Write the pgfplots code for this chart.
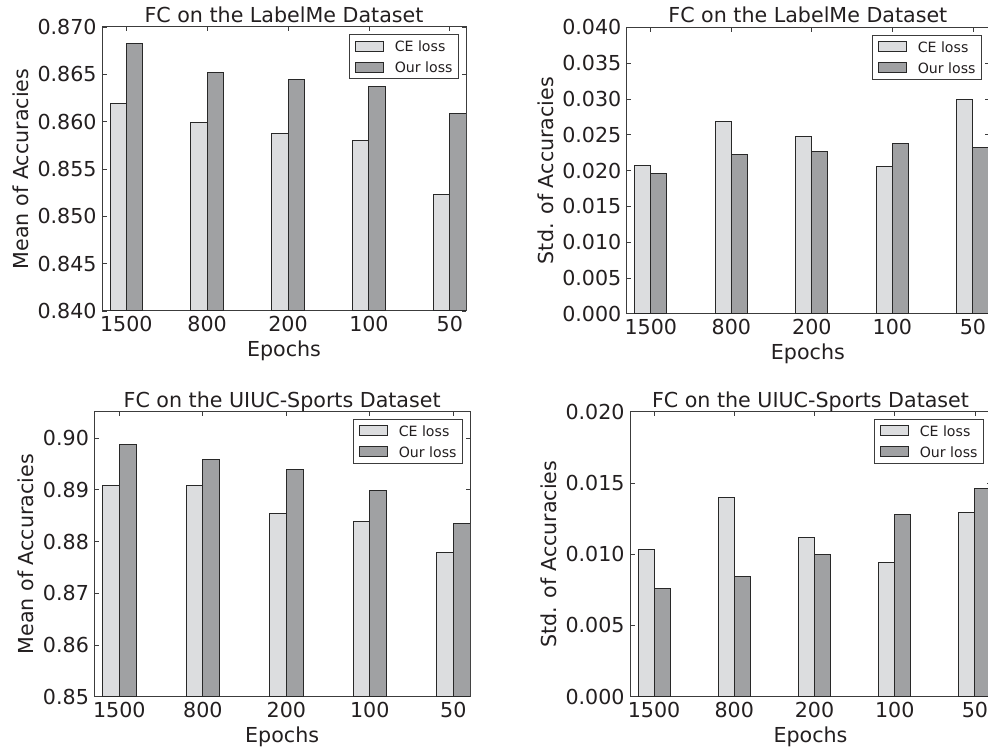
\documentclass[border=0pt]{standalone}
\usepackage{pgfplots}
\pgfplotsset{compat=1.18}
\usepackage{fontspec}
\setmainfont{DejaVu Sans}
\definecolor{cefill}{RGB}{220,221,223}
\definecolor{ourfill}{RGB}{160,161,163}
\definecolor{edge}{RGB}{40,40,40}
\definecolor{txt}{RGB}{35,31,32}
\definecolor{frame}{RGB}{60,60,60}
\newcommand\bigfont{\fontsize{20.7}{24}\selectfont}
\newcommand\legfont{\fontsize{14.2}{17}\selectfont}
\pgfplotsset{
 panel/.style={
   scale only axis,
   xmin=-0.3, xmax=4.2,
   xtick={0,1,2,3,4}, xticklabels={1500,800,200,100,50},
   ybar, bar width=0.2,
   scaled y ticks=false,
   axis line style={draw=frame, line width=1bp},
   every tick/.style={draw=frame, line width=0.8bp},
   major tick length=4.5bp,
   tick align=inside,
   tick label style={font=\bigfont, text=txt},
   label style={font=\bigfont, text=txt},
   every axis title shift=0pt,
   title style={font=\bigfont, text=txt, at={(axis description cs:0.5,1)}, anchor=base, yshift=4.4bp, inner sep=0pt},
   xticklabel style={anchor=north, inner sep=0pt, yshift=-5.5bp},
   yticklabel style={anchor=east, inner sep=0pt, xshift=-5.2bp,
     /pgf/number format/fixed, /pgf/number format/fixed zerofill,
     /pgf/number format/assume math mode=true},
   xlabel style={at={(axis description cs:0.5,0)}, anchor=north, inner sep=0pt, yshift=-29.5bp},
   xlabel={Epochs},
   legend style={at={(axis description cs:1,1)}, anchor=north east, xshift=-7.5bp, yshift=-7.3bp,
     draw=frame, line width=1bp, fill=white, font=\legfont, text=txt,
     inner xsep=5.5bp, inner ysep=6bp, row sep=10bp,
     nodes={inner sep=0pt, text depth=0pt}, cells={anchor=west},
     /tikz/every odd column/.append style={column sep=11bp}},
   legend image code/.code={\draw[##1, line width=1bp] (0bp,-5bp) rectangle (28bp,5bp);},
 },
 ylab/.style={ylabel style={at={(axis description cs:#1,0.5)}, anchor=center}},
 cebar/.style={fill=cefill, draw=edge, line width=1bp, bar shift=-0.1},
 ourbar/.style={fill=ourfill, draw=edge, line width=1bp, bar shift=0.1},
}
\begin{document}
\begin{tikzpicture}
% Top left
\begin{axis}[panel, at={(102bp,438bp)}, anchor=south west, width=364bp, height=284bp,
  ymin=0.840, ymax=0.870, ytick={0.840,0.845,0.850,0.855,0.860,0.865,0.870},
  yticklabel style={/pgf/number format/precision=3},
  title={FC on the LabelMe Dataset}, ylabel={Mean of Accuracies}, ylab=-0.2225]
\addplot[cebar] coordinates {(0,0.8619) (1,0.8599) (2,0.8588) (3,0.8580) (4,0.8523)};
\addplot[ourbar] coordinates {(0,0.8683) (1,0.8652) (2,0.8645) (3,0.8637) (4,0.8609)};
\legend{CE loss, Our loss}
\end{axis}
% Top right
\begin{axis}[panel, at={(626.7bp,435.3bp)}, anchor=south west, width=362.3bp, height=286.3bp,
  ymin=0, ymax=0.040, ytick={0,0.005,0.010,0.015,0.020,0.025,0.030,0.035,0.040},
  yticklabel style={/pgf/number format/precision=3},
  title={FC on the LabelMe Dataset}, ylabel={Std. of Accuracies}, ylab=-0.2227]
\addplot[cebar] coordinates {(0,0.0207) (1,0.0269) (2,0.0248) (3,0.0206) (4,0.0299)};
\addplot[ourbar] coordinates {(0,0.0196) (1,0.0223) (2,0.0226) (3,0.0238) (4,0.0232)};
\legend{CE loss, Our loss}
\end{axis}
% Bottom left
\begin{axis}[panel, at={(94.3bp,52.3bp)}, anchor=south west, width=375.7bp, height=285bp,
  ymin=0.85, ymax=0.9051, ytick={0.85,0.86,0.87,0.88,0.89,0.90},
  yticklabel style={/pgf/number format/precision=2},
  title={FC on the UIUC-Sports Dataset}, ylabel={Mean of Accuracies}, ylab=-0.181]
\addplot[cebar] coordinates {(0,0.8909) (1,0.8908) (2,0.8854) (3,0.8839) (4,0.8779)};
\addplot[ourbar] coordinates {(0,0.8988) (1,0.8959) (2,0.8939) (3,0.8899) (4,0.8835)};
\legend{CE loss, Our loss}
\end{axis}
% Bottom right
\begin{axis}[panel, at={(630bp,52.3bp)}, anchor=south west, width=361bp, height=285bp,
  ymin=0, ymax=0.020, ytick={0,0.005,0.010,0.015,0.020},
  yticklabel style={/pgf/number format/precision=3},
  title={FC on the UIUC-Sports Dataset}, ylabel={Std. of Accuracies}, ylab=-0.2258]
\addplot[cebar] coordinates {(0,0.0103) (1,0.0140) (2,0.0112) (3,0.0094) (4,0.0129)};
\addplot[ourbar] coordinates {(0,0.0076) (1,0.0084) (2,0.0100) (3,0.0128) (4,0.0146)};
\legend{CE loss, Our loss}
\end{axis}
\pgfresetboundingbox
\path[use as bounding box] (0,0) rectangle (988bp,749bp);
\end{tikzpicture}
\end{document}
